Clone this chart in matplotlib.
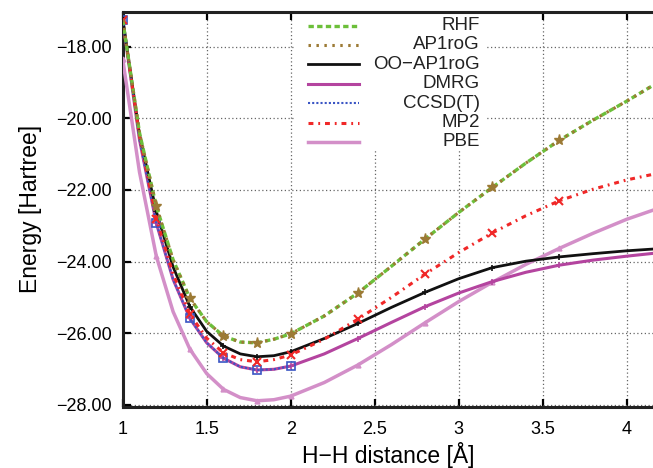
import matplotlib
matplotlib.use("Agg")
import matplotlib.pyplot as plt
from matplotlib.ticker import FuncFormatter, MultipleLocator
from matplotlib.patches import Rectangle

plt.rcParams['font.family'] = ['Liberation Sans', 'DejaVu Sans']

# H-H distance [A] and energies [Hartree]
r = [1.0, 1.1, 1.2, 1.3, 1.4, 1.5, 1.6, 1.7, 1.8, 1.9, 2.0,
     2.2, 2.4, 2.6, 2.8, 3.0, 3.2, 3.4, 3.6, 3.8, 4.0, 4.16]
rhf = [-17.25, -20.4, -22.45, -23.95, -25.03, -25.68, -26.08, -26.25, -26.27, -26.17, -26.02,
       -25.52, -24.88, -24.13, -23.37, -22.63, -21.93, -21.25, -20.61, -20.05, -19.52, -19.07]
ap1rog = rhf
oo_ap1rog = [-17.2, -20.45, -22.6, -24.15, -25.26, -25.95, -26.36, -26.58, -26.66, -26.63, -26.52,
             -26.15, -25.73, -25.28, -24.86, -24.48, -24.17, -23.99, -23.87, -23.78, -23.70, -23.65]
dmrg = [-17.25, -20.6, -22.93, -24.5, -25.59, -26.27, -26.70, -26.94, -27.03, -27.01, -26.92,
        -26.58, -26.15, -25.70, -25.26, -24.88, -24.56, -24.30, -24.10, -23.96, -23.85, -23.77]
r_cc = [1.0, 1.1, 1.2, 1.3, 1.4, 1.5, 1.6, 1.7, 1.8, 1.9, 2.0]
ccsdt = [-17.25, -20.6, -22.93, -24.5, -25.59, -26.27, -26.70, -26.94, -27.03, -27.01, -26.92]
mp2 = [-17.25, -20.5, -22.8, -24.35, -25.47, -26.14, -26.55, -26.74, -26.80, -26.74, -26.61,
       -26.17, -25.61, -25.0, -24.35, -23.75, -23.20, -22.72, -22.30, -21.98, -21.72, -21.56]
pbe = [-18.35, -21.5, -23.85, -25.4, -26.45, -27.13, -27.57, -27.80, -27.89, -27.86, -27.76,
       -27.38, -26.89, -26.32, -25.71, -25.12, -24.58, -24.08, -23.63, -23.21, -22.82, -22.56]

# the computed points (markers)
pts = [1.0, 1.2, 1.4, 1.6, 1.8, 2.0, 2.4, 2.8, 3.2, 3.6]
mk = [i for i, v in enumerate(r) if v in pts]
mk_cc = [i for i, v in enumerate(r_cc) if v in pts]

c_rhf, c_ap = '#6cbf3a', '#9c7a35'
c_oo, c_dmrg, c_cc, c_mp2, c_pbe = '#111111', '#b4449f', '#3a55c4', '#f02828', '#d38fc8'
ls_rhf = (0, (1.6, 1.0))
ls_ap = (0, (0.8, 1.8))
ls_cc = (0, (1, 1))
ls_mp2 = (0, (1.6, 1.6, 0.6, 1.6))

fig = plt.figure(figsize=(6.53, 4.68), dpi=100)
ax = fig.add_axes([0.1879, 0.1303, 0.8121, 0.8447])

ax.plot(r, pbe, color=c_pbe, lw=2.5, marker='^', ms=3.5, markevery=mk, zorder=3)
ax.plot(r, dmrg, color=c_dmrg, lw=2.2, marker='+', ms=5, mew=1.2, markevery=mk, zorder=4)
ax.plot(r_cc, ccsdt, color=c_cc, lw=1.5, ls=ls_cc, marker='s', ms=6, mfc='none',
        mew=1.2, markevery=mk_cc, zorder=5)
ax.plot(r, oo_ap1rog, color=c_oo, lw=2.0, marker='+', ms=5, mew=1.2, markevery=mk, zorder=4)
ax.plot(r, mp2, color=c_mp2, lw=2.2, ls=ls_mp2, marker='x', ms=6, mew=1.5,
        markevery=mk, zorder=5)
ax.plot(r, rhf, color=c_rhf, lw=2.4, ls=ls_rhf, zorder=5)
ax.plot(r, ap1rog, color=c_ap, lw=2.2, ls=ls_ap, marker='*', ms=8, markevery=mk[1:],
        zorder=6)

ax.set_xlim(1.0, 4.157)
ax.set_ylim(-28.064, -17.02)
ax.xaxis.set_major_locator(MultipleLocator(0.5))
ax.yaxis.set_major_locator(MultipleLocator(2))
ax.xaxis.set_major_formatter(FuncFormatter(lambda v, p: '%g' % v))
ax.yaxis.set_major_formatter(FuncFormatter(lambda v, p: ('%.2f' % v).replace('-', '\u2212')))
ax.grid(True, color='#666666', ls=(0, (1, 2)), lw=0.9)
ax.tick_params(direction='in', length=6, width=1.6, labelsize=13, top=True, right=False, pad=8)
ax.tick_params(axis='x', pad=10)
for s in ['left', 'bottom', 'top']:
    ax.spines[s].set_linewidth(2.2)
    ax.spines[s].set_color('#222222')
ax.spines['right'].set_visible(False)

ax.set_xlabel('H\u2212H distance [\u00c5]', fontsize=16.5, labelpad=3)
ax.set_ylabel('Energy [Hartree]', fontsize=16.5, labelpad=10)


# legend drawn by hand so the labels sit right-aligned like gnuplot's key
def to_ax(px, py):
    return (px - 122.7) / 530.3, 1 - (py - 11.7) / 395.3


x0, y0 = to_ax(294, 150)
x1, y1 = to_ax(486, 12.5)
ax.add_patch(Rectangle((x0, y0), x1 - x0, y1 - y0, transform=ax.transAxes,
                       facecolor='white', edgecolor='none', zorder=2.5))
names = ['RHF', 'AP1roG', 'OO\u2212AP1roG', 'DMRG', 'CCSD(T)', 'MP2', 'PBE']
styles = [dict(color=c_rhf, lw=2.4, ls=ls_rhf),
          dict(color=c_ap, lw=2.2, ls=ls_ap),
          dict(color=c_oo, lw=2.0),
          dict(color=c_dmrg, lw=2.2),
          dict(color=c_cc, lw=1.5, ls=ls_cc),
          dict(color=c_mp2, lw=2.2, ls=ls_mp2),
          dict(color=c_pbe, lw=2.5)]
for i, (n, st) in enumerate(zip(names, styles)):
    py = 25.5 + i * 19.4
    ax_a, ay = to_ax(308, py)
    ax_b, _ = to_ax(359, py)
    ax.plot([ax_a, ax_b], [ay, ay], transform=ax.transAxes, zorder=7, **st)
    tx, _ = to_ax(480, py)
    ax.text(tx, ay, n, transform=ax.transAxes, ha='right', va='center', fontsize=13.5,
            color='#222222', zorder=7)

fig.savefig('out.png', dpi=100)
